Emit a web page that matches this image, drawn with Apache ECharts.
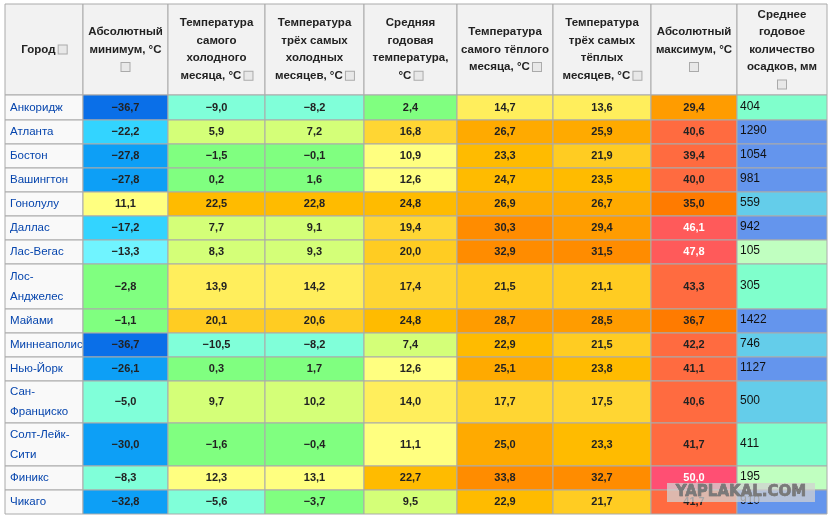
<!DOCTYPE html>
<html><head><meta charset="utf-8">
<script src="https://cdn.jsdelivr.net/npm/echarts@6/dist/echarts.min.js"></script>
<style>html,body{margin:0;padding:0;background:#fff}#c{width:836px;height:522px}</style>
</head><body><div id="c"></div>
<script>
const headers = [
 "Город {i|}",
 "Абсолютный\nминимум, °C\n{i|}",
 "Температура\nсамого\nхолодного\nмесяца, °C {i|}",
 "Температура\nтрёх самых\nхолодных\nмесяцев, °C {i|}",
 "Средняя\nгодовая\nтемпература,\n°C {i|}",
 "Температура\nсамого тёплого\nмесяца, °C {i|}",
 "Температура\nтрёх самых\nтёплых\nмесяцев, °C {i|}",
 "Абсолютный\nмаксимум, °C\n{i|}",
 "Среднее\nгодовое\nколичество\nосадков, мм\n{i|}"
];
const cities = ["Анкоридж","Атланта","Бостон","Вашингтон","Гонолулу","Даллас","Лас-Вегас","Лос-\nАнджелес","Майами","Миннеаполис","Нью-Йорк","Сан-\nФранциско","Солт-Лейк-\nСити","Финикс","Чикаго"];
const absMin   = [-36.7,-22.2,-27.8,-27.8,11.1,-17.2,-13.3,-2.8,-1.1,-36.7,-26.1,-5.0,-30.0,-8.3,-32.8];
const coldMon  = [-9.0,5.9,-1.5,0.2,22.5,7.7,8.3,13.9,20.1,-10.5,0.3,9.7,-1.6,12.3,-5.6];
const cold3    = [-8.2,7.2,-0.1,1.6,22.8,9.1,9.3,14.2,20.6,-8.2,1.7,10.2,-0.4,13.1,-3.7];
const annual   = [2.4,16.8,10.9,12.6,24.8,19.4,20.0,17.4,24.8,7.4,12.6,14.0,11.1,22.7,9.5];
const warmMon  = [14.7,26.7,23.3,24.7,26.9,30.3,32.9,21.5,28.7,22.9,25.1,17.7,25.0,33.8,22.9];
const warm3    = [13.6,25.9,21.9,23.5,26.7,29.4,31.5,21.1,28.5,21.5,23.8,17.5,23.3,32.7,21.7];
const absMax   = [29.4,40.6,39.4,40.0,35.0,46.1,47.8,43.3,36.7,42.2,41.1,40.6,41.7,50.0,41.7];
const precip   = [404,1290,1054,981,559,942,105,305,1422,746,1127,500,411,195,910];

// layout (pixel grid)
const xEdges = [5,83,168,265,364,457,553,651,737,827];
const yEdges = [4,95,120,144,168,192,216,240,264,309,333,357,381,423,466,490,514];

function tColor(v){
  const s=[[-35,'#0a6fe8'],[-25,'#0d9ff6'],[-15,'#33d4ff'],[-11,'#70f4ff'],[-4.5,'#80ffd9'],[5,'#80ff80'],[10.5,'#d4ff78'],[13.5,'#ffff80'],[15,'#ffee5c'],[20,'#ffd633'],[22.4,'#ffcc22'],[25,'#ffbb00'],[27.5,'#ffaa00'],[30,'#ff9c00'],[35,'#ff8c00'],[39,'#ff7b00'],[45,'#ff6b40'],[49,'#ff5a5a'],[999,'#ff4f73']];
  for(const [t,c] of s) if(v<t) return c;
}
function pColor(v){ return v<300?'#c0ffc0':v<480?'#80ffcc':v<900?'#64cdea':'#6495ed'; }
const fmt=v=>v.toFixed(1).replace('.',',').replace('-','−');

const cols=[absMin,coldMon,cold3,annual,warmMon,warm3,absMax];
const cells=[];
headers.forEach((h,c)=>cells.push([c,0,0,'h']));
cities.forEach((n,r)=>{
  cells.push([0,r+1,0,'city']);
  cols.forEach((arr,ci)=>cells.push([ci+1,r+1,arr[r],'t']));
  cells.push([8,r+1,precip[r],'p']);
});

const chart=echarts.init(document.getElementById('c'));
chart.setOption({
  animation:false,
  grid:{left:0,right:0,top:0,bottom:0},
  xAxis:{type:'value',min:0,max:836,show:false},
  yAxis:{type:'value',min:0,max:522,inverse:true,show:false},
  series:[{type:'custom',data:cells.map(c=>[c[0],c[1],c[2]]),
    renderItem:function(params,api){
      const cell=cells[params.dataIndex];
      const c=cell[0],r=cell[1],v=cell[2],kind=cell[3];
      const p0=api.coord([xEdges[c],yEdges[r]]), p1=api.coord([xEdges[c+1],yEdges[r+1]]);
      const w=p1[0]-p0[0],h=p1[1]-p0[1];
      let fill='#f9f9f9',text='',style={};
      const font='Liberation Sans, Arial, sans-serif';
      if(kind==='h'){fill='#f2f2f2';text=headers[c];
        style={text,x:p0[0]+w/2,y:p0[1]+h/2,align:'center',verticalAlign:'middle',fill:'#222',font:'bold 11.5px '+font,lineHeight:17.5,
          rich:{i:{width:8,height:8,borderColor:'#aaa',borderWidth:1,backgroundColor:'#e8e8e8'}}};}
      else if(kind==='city'){fill='#f9f9f9';
        style={text:cities[r-1],x:p0[0]+5,y:p0[1]+h/2,align:'left',verticalAlign:'middle',fill:'#0645ad',font:'11.5px '+font,lineHeight:20};}
      else if(kind==='t'){fill=tColor(v);
        style={text:fmt(v),x:p0[0]+w/2,y:p0[1]+h/2,align:'center',verticalAlign:'middle',fill:v>=45?'#fff':'#222',font:'bold 11px '+font};}
      else {fill=pColor(v);
        style={text:String(v),x:p0[0]+3,y:p0[1]+h/2-1,align:'left',verticalAlign:'middle',fill:'#111',font:'12px '+font};}
      return {type:'group',children:[
        {type:'rect',shape:{x:p0[0],y:p0[1],width:w,height:h},style:{fill,stroke:'#aaaaaa',lineWidth:1}},
        {type:'text',style}
      ]};
    }
  }],
  graphic:[
    {type:'rect',x:667,y:483,shape:{width:148,height:19},style:{fill:'rgba(210,210,210,0.75)'},z:100},
    {type:'text',x:741,y:485,style:{text:'YAPLAKAL.COM',align:'center',fill:'#7a7a7a',stroke:'#555',lineWidth:0.5,font:'bold 15px DejaVu Sans, sans-serif'},z:101}
  ]
});
</script></body></html>
